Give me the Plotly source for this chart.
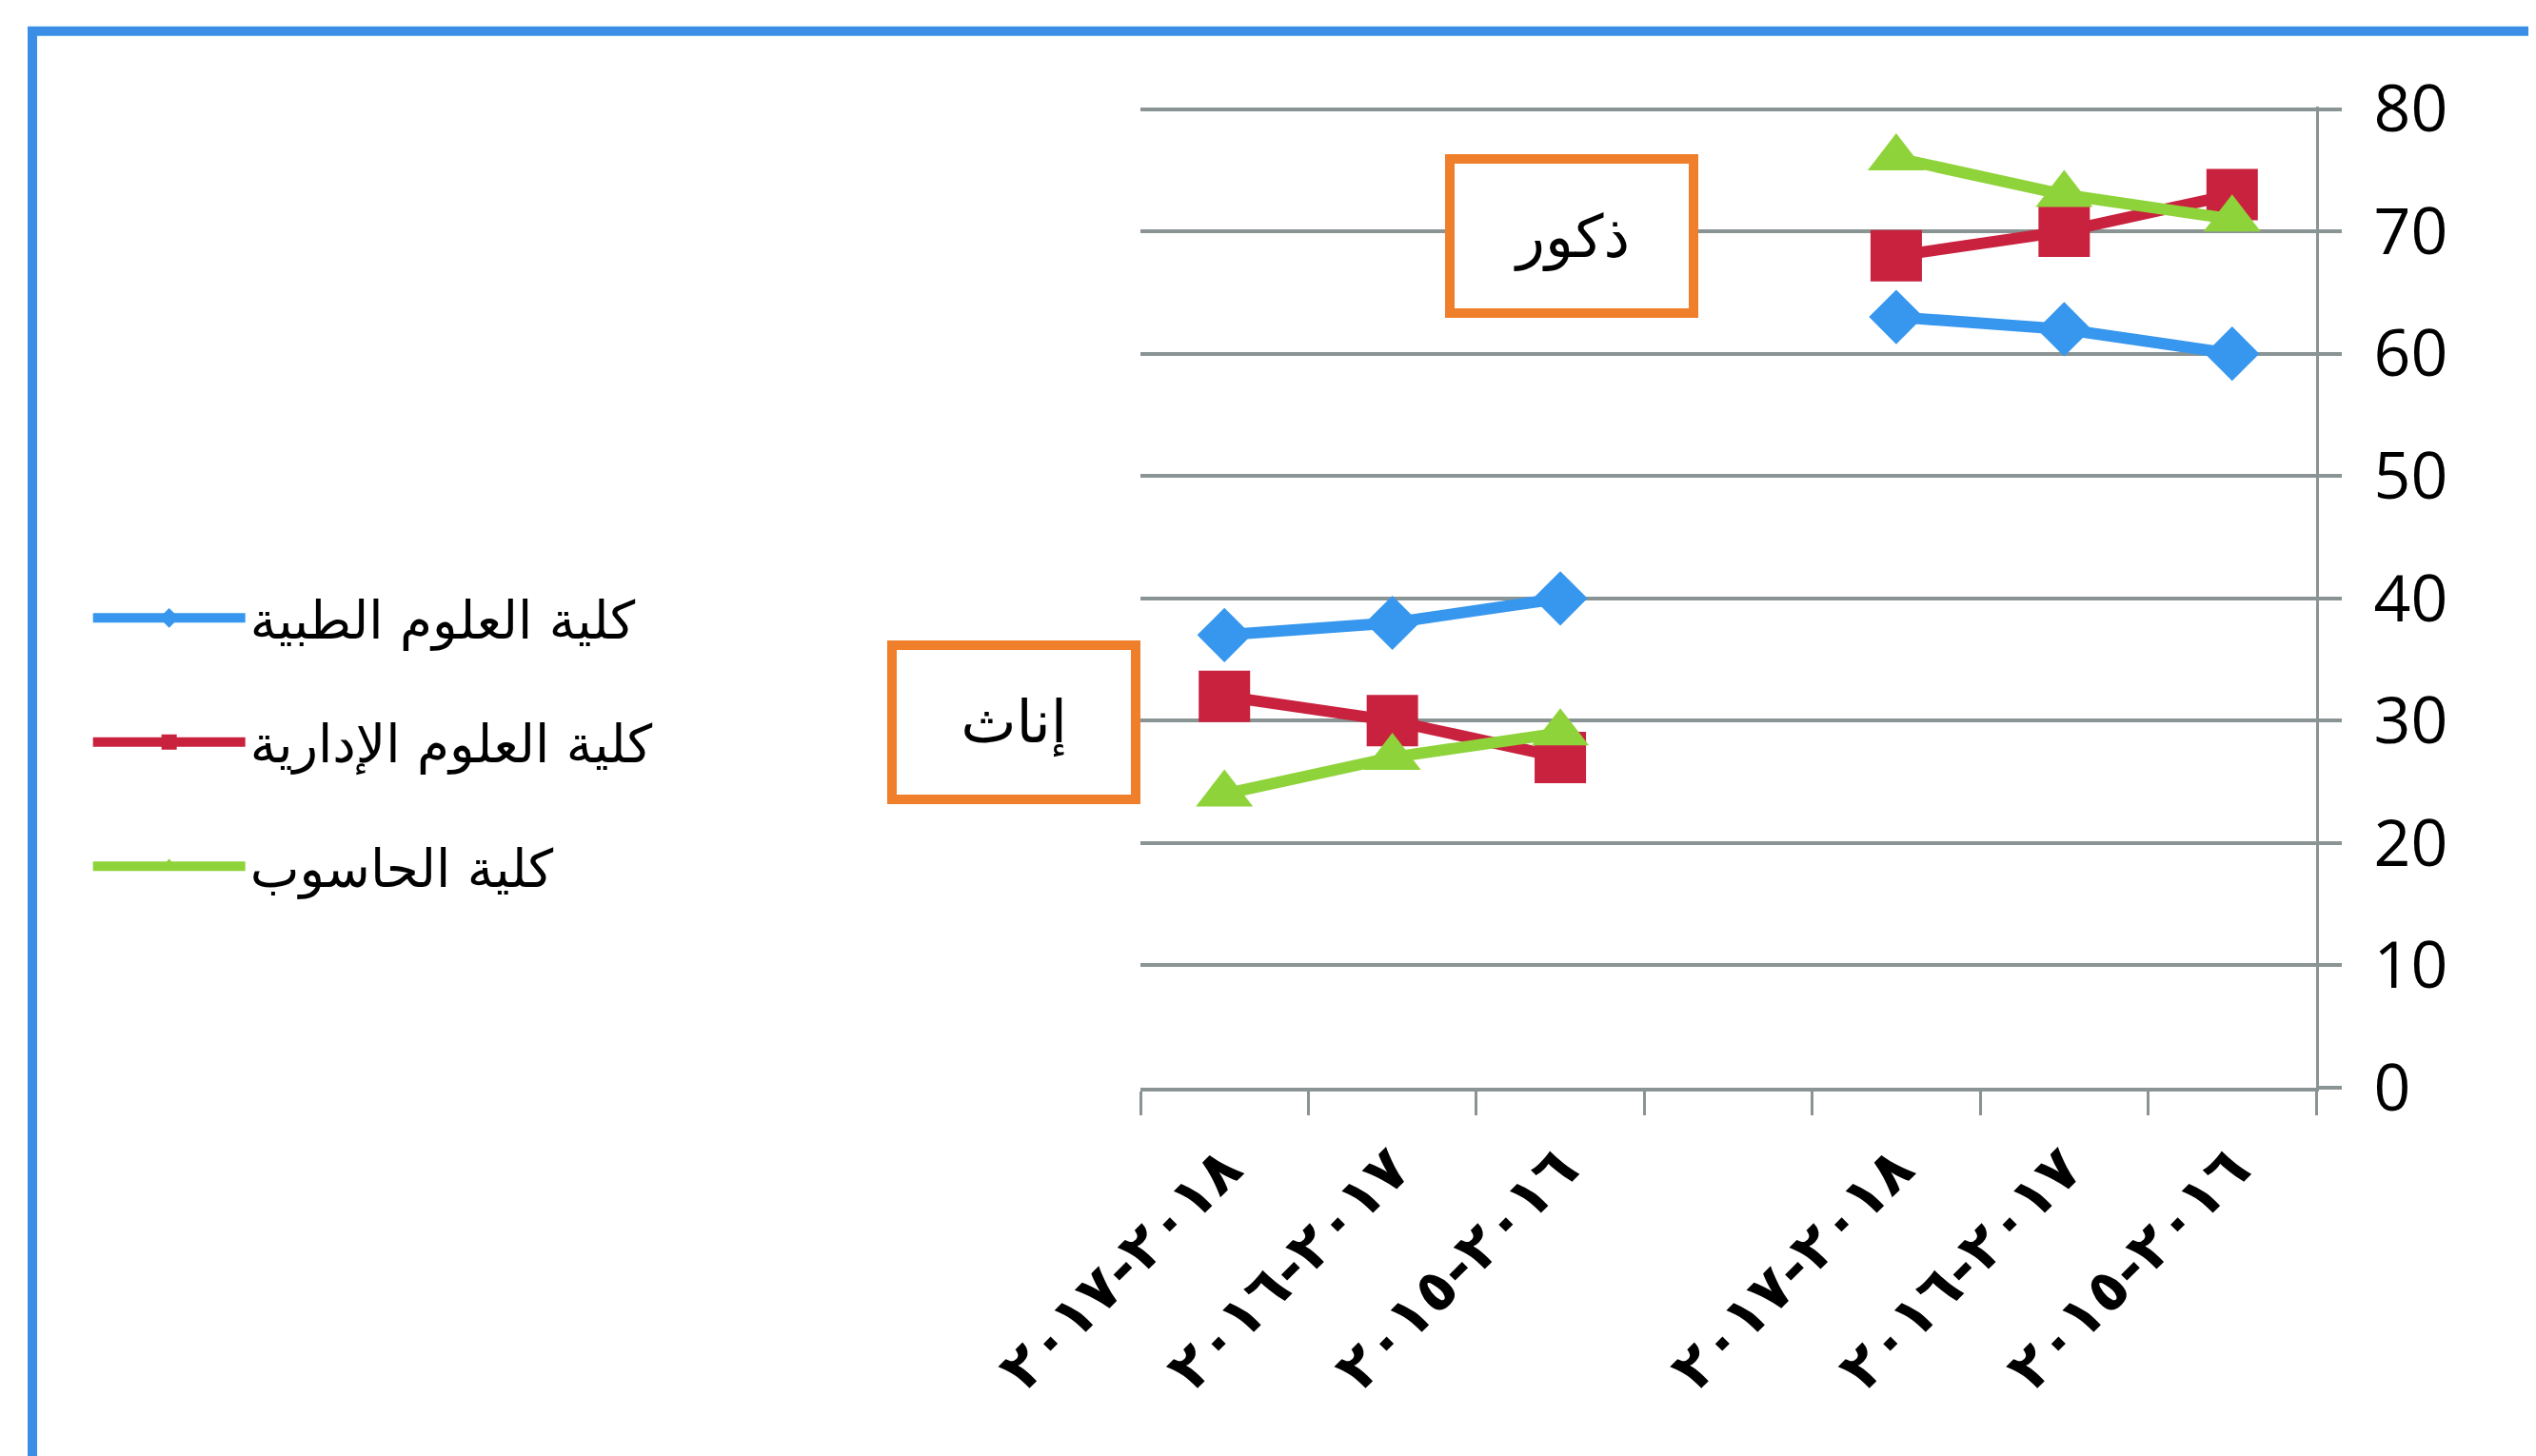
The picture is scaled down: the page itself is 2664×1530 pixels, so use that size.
import plotly.graph_objects as go

# x positions run right-to-left like the original (Excel RTL chart)
# LRM marks around the hyphen keep the years in reading order "2017-2018"
categories = ["٢٠١٥\u200e-\u200e٢٠١٦", "٢٠١٦\u200e-\u200e٢٠١٧", "٢٠١٧\u200e-\u200e٢٠١٨", "",
              "٢٠١٥\u200e-\u200e٢٠١٦", "٢٠١٦\u200e-\u200e٢٠١٧", "٢٠١٧\u200e-\u200e٢٠١٨"]
medical = [60, 62, 63, None, 40, 38, 37]
admin = [73, 70, 68, None, 27, 30, 32]
computing = [71, 73, 76, None, 29, 27, 24]
series_names = ["كلية العلوم الطبية", "كلية العلوم الإدارية", "كلية الحاسوب"]
group_labels = ["ذكور", "إناث"]

x = list(range(len(categories)))
grey = "#8a9494"

fig = go.Figure()
series = [(medical, "#3797ee", "diamond", 44),
          (admin, "#c9223f", "square", 54),
          (computing, "#8fd33a", "triangle-up", 52)]
for i, (vals, col, sym, sz) in enumerate(series):
    fig.add_trace(go.Scatter(
        x=x, y=vals, name=series_names[i], mode="lines+markers",
        line=dict(color=col, width=12), connectgaps=False,
        marker=dict(symbol=sym, size=sz, color=col),
        legendgroup=str(i),
    ))

# page body has an 8px margin, so the margins are shifted by 8px
fig.update_layout(
    width=2664, height=1530,
    margin=dict(l=1190, r=239, t=104, b=395),
    plot_bgcolor="white", paper_bgcolor="white",
    showlegend=True,
    legend=dict(x=-0.895, y=0.352, xanchor="left", yanchor="middle",
                font=dict(family="DejaVu Sans", size=55, color="black"),
                itemwidth=160, tracegroupgap=56, traceorder="grouped",
                bgcolor="rgba(0,0,0,0)"),
    xaxis=dict(range=[6.5, -0.5], tickmode="array", tickvals=x, ticktext=categories,
               tickangle=-45, showgrid=False, zeroline=False,
               showline=True, linecolor=grey, linewidth=4,
               ticks="outside", ticklen=0, tickcolor="rgba(0,0,0,0)",
               ticklabelstandoff=20,
               tickfont=dict(family="DejaVu Sans", size=62, color="black", weight="bold"),
               minor=dict(tickmode="array", tickvals=[v - 0.5 for v in x] + [6.5],
                          ticks="outside", ticklen=25, tickwidth=3, tickcolor=grey,
                          showgrid=False)),
    yaxis=dict(range=[0, 80.2], tickmode="array", tickvals=list(range(0, 81, 10)),
               side="right", showgrid=True,
               gridcolor=grey, gridwidth=4, zeroline=False,
               showline=True, linecolor=grey, linewidth=3,
               ticks="outside", ticklen=24, tickwidth=4, tickcolor=grey,
               ticklabelstandoff=20,
               tickfont=dict(family="Open Sans", size=68, color="black")),
    font=dict(family="DejaVu Sans"),
)

# orange label boxes
for label, px, py in [(group_labels[0], 0.3668, 0.868), (group_labels[1], -0.1077, 0.372)]:
    fig.add_annotation(x=px, y=py, xref="paper", yref="paper", text=label,
                       xanchor="center", yanchor="middle",
                       showarrow=False, font=dict(size=62, color="black", family="DejaVu Sans"),
                       width=246, height=152, bordercolor="#f07f2c", borderwidth=10,
                       borderpad=0, bgcolor="white")

# blue frame around the whole picture (cut off at right and bottom)
fig.add_shape(type="rect", xref="paper", yref="paper",
              x0=-0.9425, y0=-0.6, x1=1.4, y1=1.0769,
              line=dict(color="#3a8ee6", width=10), layer="below")

fig.write_html("out.html")
